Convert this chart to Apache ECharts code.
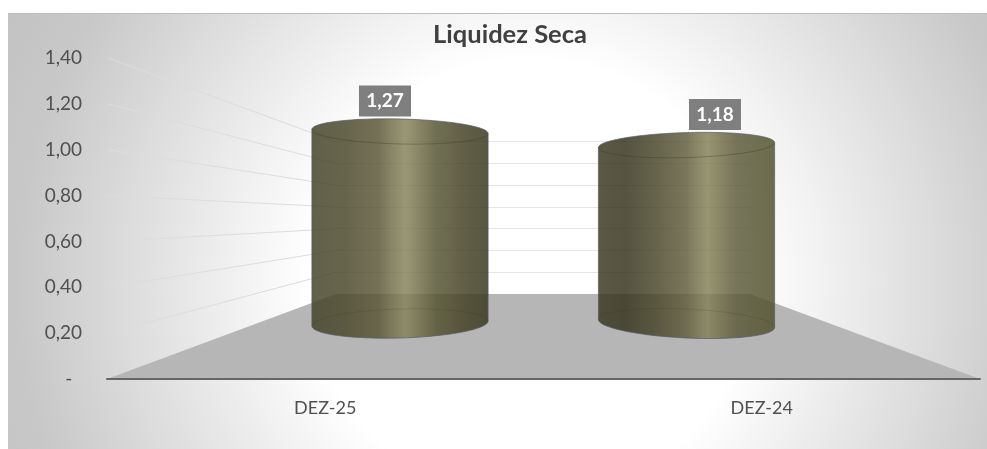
<!DOCTYPE html>
<html><head><meta charset="utf-8">
<style>html,body{margin:0;padding:0;background:#fff}#c{width:987px;height:449px}</style>
<script src="https://cdn.jsdelivr.net/npm/echarts@6/dist/echarts.min.js"></script>
</head><body><div id="c"></div>
<script>
const titleText = 'Liquidez Seca';
const categories = ['DEZ-25', 'DEZ-24'];
const values = [1.27, 1.18];
const yTicks = [0.2, 0.4, 0.6, 0.8, 1.0, 1.2, 1.4];
const yMin = 0, yMax = 1.4, yStep = 0.2;

// Perspective planes of the 3D box (layout only)
const FRONT = {left:107, right:980, top:58, bottom:379};
const BACK  = {left:336, right:750, top:141.7, bottom:294};
const MID   = {left:256.75, right:829.75, top:111.8, bottom:323.5};
const W = 987, H = 449;
const FONT = 'Lato, Carlito, Calibri, sans-serif';

const VEIL = 0.84;
function veil(hex){ // colour observed over white -> translucent source colour
  const n = parseInt(hex.slice(1),16), f = c => Math.max(0,Math.round((c-(1-VEIL)*255)/VEIL));
  return `rgba(${f(n>>16&255)},${f(n>>8&255)},${f(n&255)},${VEIL})`;
}
const SHADE = [
  [[0,'#605f4a'],[.2,'#67654c'],[.38,'#747157'],[.46,'#8a8769'],[.53,'#9a9775'],[.6,'#8a8768'],[.7,'#716f53'],[.85,'#625f47'],[1,'#585640']],
  [[0,'#5a5944'],[.15,'#555440'],[.35,'#67654d'],[.5,'#7a775c'],[.57,'#8d8a6a'],[.62,'#989572'],[.68,'#8b8868'],[.78,'#76745a'],[1,'#6e6c4d']]
];
const TILT = [{top:.023,bottom:-.028},{top:-.028,bottom:.045}];
const LABEL_DX = [-15, 28.5];
const fmt = v => v.toFixed(2).replace('.', ',');

function arc(cx, cy, a, b, tilt, t0, t1){
  const pts = [];
  for (let i = 0; i <= 48; i++){
    const t = t0 + (t1-t0)*i/48;
    pts.push([cx + a*Math.cos(t), cy + b*Math.sin(t) + tilt*a*Math.cos(t)]);
  }
  return pts;
}
function rawLine(pts, stroke, w){
  return {type:'polyline', shape:{points:pts}, style:{stroke, lineWidth:w, fill:null}, silent:true};
}
function renderCylinder(params, api){
  const i = params.dataIndex, v = api.value(1);
  const top = api.coord([i, v]), base = api.coord([i, 0]);
  const a = api.size([1,0])[0]*0.3075, rt = 12.5, rb = 14.5, tl = TILT[i];
  const backTop  = arc(top[0], top[1], a, rt, tl.top, Math.PI, 2*Math.PI);
  const frontTop = arc(top[0], top[1], a, rt, tl.top, 0, Math.PI);
  const frontBot = arc(base[0], base[1], a, rb, tl.bottom, 0, Math.PI);
  const backBot  = arc(base[0], base[1], a, rb, tl.bottom, Math.PI, 2*Math.PI);
  const lx = top[0], ly = top[1]-30.5, lw = 52, lh = 31;
  const fill = new echarts.graphic.LinearGradient(0,0,1,0, SHADE[i].map(s=>({offset:s[0], color:veil(s[1])})));
  return {type:'group', children:[
    {type:'polygon', shape:{points:backTop.concat(frontBot)}, style:{fill, stroke:'rgba(85,92,105,0.7)', lineWidth:1}},
    rawLine(frontTop,'rgba(55,55,35,0.35)',1),
    rawLine(backBot,'rgba(55,55,35,0.18)',1),
    {type:'rect', shape:{x:lx+LABEL_DX[i]-lw/2, y:ly-lh/2, width:lw, height:lh}, style:{fill:'#7f7f7f'}},
    {type:'text', x:lx+LABEL_DX[i], y:ly, style:{text:fmt(v), fill:'#fff', font:`bold 19px ${FONT}`, align:'center', verticalAlign:'middle'}}
  ]};
}
function renderFloor(params, api){
  const l = api.coord([0,0])[1];
  return {type:'polygon', shape:{points:[[FRONT.left,l],[FRONT.right,l],[BACK.right,BACK.bottom],[BACK.left,BACK.bottom]]},
    style:{fill:'#b6b6b6'}, silent:true};
}
const chart = echarts.init(document.getElementById('c'), null, {renderer:'canvas'});
function renderFan(params, api){
  const v = api.value(1), y = api.coord([0,v])[1];
  const by = BACK.bottom - (BACK.bottom-BACK.top)*v/yMax;
  return {type:'line', shape:{x1:FRONT.left+1, y1:y, x2:BACK.left, y2:by}, style:{stroke:'#dddddd', lineWidth:1}, silent:true};
}
const gridOf = P => ({left:P.left, right:W-P.right, top:P.top, bottom:H-P.bottom, containLabel:false});
const hiddenX = gridIndex => ({type:'category', gridIndex, data:categories, show:false});
const hiddenY = (gridIndex, grid) => ({type:'value', gridIndex, min:yMin, max:yMax, interval:yStep,
  axisLabel:{show:false}, axisLine:{show:false}, axisTick:{show:false},
  splitLine:{show:grid, lineStyle:{color:'#e6e6e6', width:1}}});

chart.setOption({
  animation:false,
  backgroundColor:'#fff',
  title:{text:titleText, left:505, top:17, textAlign:'center',
    textStyle:{fontFamily:FONT, fontSize:25.5, fontWeight:'bold', color:'#404040'}},
  graphic:[
    {type:'rect', z:-10, silent:true, shape:{x:8,y:13,width:979,height:436},
      style:{fill:new echarts.graphic.RadialGradient(.533,.612,1.422,[
        {offset:0,color:'#fff'},{offset:.355,color:'#fff'},{offset:.823,color:'#c8c8c8'},{offset:1,color:'#c0c0c0'}])}},
    {type:'line', z:-9, silent:true, shape:{x1:8,y1:13.5,x2:987,y2:13.5}, style:{stroke:'#bdbdbd', lineWidth:1}}
  ],
  grid:[gridOf(FRONT), gridOf(BACK), gridOf(MID)],
  xAxis:[
    {type:'category', gridIndex:0, data:categories, z:3,
      axisLine:{show:true, lineStyle:{color:'#666666', width:2}}, axisTick:{show:false},
      axisLabel:{margin:20, fontFamily:FONT, fontSize:18, color:'#505050'}},
    hiddenX(1), hiddenX(2)
  ],
  yAxis:[
    {type:'value', gridIndex:0, min:yMin, max:yMax, interval:yStep,
      axisLine:{show:false}, axisTick:{show:false}, splitLine:{show:false},
      axisLabel:{margin:25, fontFamily:FONT, fontSize:19, color:'#505050',
        formatter:v => v === 0 ? '-\u00a0\u00a0' : fmt(v)}},
    hiddenY(1,true), hiddenY(2,false)
  ],
  series:[
    {type:'custom', name:'floor', xAxisIndex:0, yAxisIndex:0, z:1, silent:true, renderItem:renderFloor, data:[[0,0]]},
    {type:'custom', name:'fan', xAxisIndex:0, yAxisIndex:0, z:1, silent:true, renderItem:renderFan, data:yTicks.map(v=>[0,v])},
    {type:'custom', name:titleText, xAxisIndex:2, yAxisIndex:2, z:2, renderItem:renderCylinder,
      data:values.map((v,i)=>[i,v])}
  ]
});
</script></body></html>
